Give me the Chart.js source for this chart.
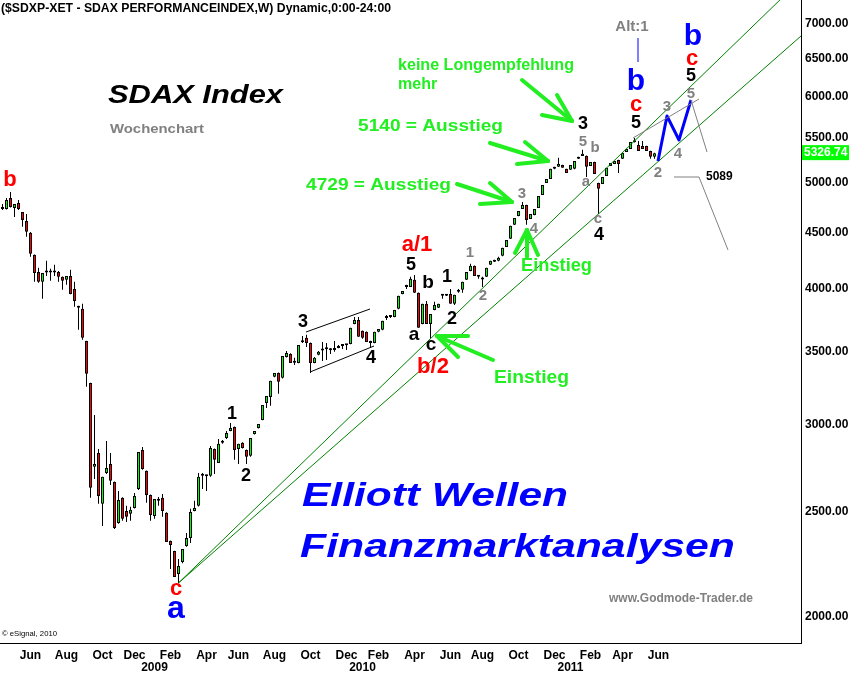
<!DOCTYPE html>
<html><head><meta charset="utf-8">
<script src="https://cdn.jsdelivr.net/npm/chart.js@4.4.0/dist/chart.umd.min.js"></script>
<style>html,body{margin:0;padding:0;background:#fff;overflow:hidden}canvas{display:block}</style>
</head><body>
<canvas id="c" width="849" height="675"></canvas>
<script>
// ---- data (weekly candles, SDAX) ----
const firstWeek = [2008, 3, 14]; // Monday of first weekly bar (UTC y, m0, d)
const open = [4755,4735,4846,4745,4795,4705,4616,4502,4297,4145,
4059,4145,4145,4140,4145,4102,4076,4110,3999,3858,
3834,3583,3279,2746,2828,2540,2711,2763,2660,2439,
2572,2502,2487,2518,2621,2846,2723,2588,2476,2556,
2572,2492,2348,2299,2190,2246,2323,2363,2502,2529,
2700,2692,2695,2852,2769,2889,2919,2962,2987,2852,
2889,2846,2811,2944,2981,3032,3143,3183,3321,3349,
3314,3464,3486,3427,3420,3575,3607,3568,3420,3479,
3515,3520,3515,3515,3530,3545,3553,3560,3714,3745,
3660,3652,3583,3568,3652,3668,3760,3769,3769,3834,
3957,4016,4016,4076,3966,3714,3875,3714,3825,3842,
3941,3941,3957,3875,3991,3991,4076,4154,4199,4102,
4085,4102,4208,4234,4243,4288,4370,4445,4578,4665,
4735,4775,4636,4675,4745,4877,5002,5045,5153,5175,
5196,5153,5142,5153,5263,5296,5296,5185,5229,5002,
4992,5077,5185,5207,5251,5263,5341,5375,5455,5420,
5409,5409,5352,5285];
const high = [4785,4846,4908,4785,4826,4705,4685,4510,4300,4182,
4136,4243,4173,4208,4154,4105,4110,4163,4059,3860,
3875,3585,3280,3064,2852,2689,2901,2828,2662,2610,
2575,2529,2524,2599,2834,2864,2725,2590,2566,2577,
2593,2495,2350,2300,2260,2309,2388,2513,2556,2711,
2711,2700,2870,2855,2913,2907,2962,3013,2990,2883,
2892,2848,2919,2962,3006,3130,3190,3293,3349,3352,
3471,3508,3490,3457,3553,3621,3629,3570,3464,3508,
3575,3568,3530,3583,3553,3553,3560,3683,3769,3769,
3662,3655,3585,3652,3675,3738,3785,3785,3825,3941,
3982,4034,4102,4119,3968,3875,3899,3793,3891,3875,
3957,3957,3999,3949,3999,4059,4145,4217,4201,4119,
4102,4182,4243,4252,4279,4361,4435,4569,4645,4715,
4805,4778,4685,4735,4867,4981,5045,5153,5175,5274,
5199,5155,5196,5240,5285,5364,5300,5229,5231,5005,
5066,5164,5218,5240,5253,5330,5375,5455,5501,5466,
5466,5411,5354,5330];
const low = [4725,4730,4750,4655,4725,4559,4464,4279,4059,4051,
3916,4110,4068,4110,4059,3991,4034,3955,3850,3668,
3592,3252,2572,2677,2540,2424,2705,2643,2408,2435,
2451,2444,2451,2515,2615,2730,2545,2451,2461,2529,
2471,2343,2213,2176,2149,2240,2320,2338,2500,2525,
2621,2610,2689,2705,2769,2883,2913,2960,2787,2763,
2855,2763,2805,2940,2978,3030,3110,3124,3318,3204,
3310,3460,3420,3405,3418,3568,3538,3349,3418,3476,
3435,3442,3486,3501,3528,3523,3515,3557,3712,3615,
3600,3575,3530,3565,3650,3665,3745,3761,3767,3830,
3955,3999,4014,3964,3683,3712,3714,3600,3823,3840,
3916,3940,3875,3866,3966,3966,4074,4150,4110,4085,
4016,4100,4205,4232,4240,4285,4368,4443,4576,4663,
4733,4578,4634,4673,4743,4875,5000,5043,5150,5173,
5164,5109,5140,5150,5261,5294,5066,5183,5098,4685,
4990,5075,5183,5205,5109,5261,5339,5373,5448,5352,
5375,5352,5263,5263];
const close = [4735,4826,4755,4785,4735,4625,4511,4306,4136,4059,
4136,4140,4140,4145,4102,4068,4110,3957,3899,3842,
3607,3342,2627,2763,2582,2689,2740,2666,2413,2561,
2461,2471,2508,2582,2834,2734,2588,2481,2566,2566,
2502,2343,2328,2176,2227,2309,2363,2497,2518,2689,
2695,2696,2858,2787,2883,2901,2950,2981,2846,2883,
2858,2805,2919,2962,3006,3130,3190,3293,3349,3286,
3471,3493,3420,3422,3553,3572,3568,3420,3457,3501,
3512,3523,3513,3518,3545,3548,3550,3683,3745,3615,
3607,3575,3568,3652,3675,3738,3763,3772,3825,3941,
3982,4020,4085,3966,3683,3875,3714,3793,3866,3875,
3945,3957,3875,3949,3974,4059,4145,4199,4110,4105,
4080,4182,4243,4252,4270,4361,4435,4569,4645,4715,
4775,4625,4685,4735,4867,4981,5045,5153,5175,5207,
5164,5109,5196,5240,5285,5319,5175,5229,5098,4940,
5066,5164,5218,5240,5207,5330,5375,5455,5450,5352,
5375,5352,5285,5326.74];
const yTicks = [2000,2500,3000,3500,4000,4500,5000,5500,6000,6500,7000];
const monthNames = ['Jan','Feb','Mar','Apr','May','Jun','Jul','Aug','Sep','Oct','Nov','Dec'];
const lastPrice = close[close.length-1];
// trend lines: anchor candle -> candle whose low it touches
const trendPairs = [[44,107],[44,149]];

// ---- derived ----
const weekDate = i => new Date(Date.UTC(firstWeek[0], firstWeek[1], firstWeek[2]) + i*7*864e5);
const xTickIdx = [], xTickLab = {};
for (let i = 1; i <= close.length + 2; i++) {
  const d = weekDate(i), p = weekDate(i-1);
  if (d.getUTCMonth() !== p.getUTCMonth()) {
    const m = d.getUTCMonth();
    if (m === 0) { xTickIdx.push(i); xTickLab[i] = ['', String(d.getUTCFullYear())]; }
    else if (m % 2 === 1) { xTickIdx.push(i); xTickLab[i] = [monthNames[m]]; }
  }
}
const idx = close.map((_, i) => i);
const bodyData = idx.map(i => ({x:i, y:[open[i], close[i]]}));
const wickData = idx.map(i => ({x:i, y:[low[i], high[i]]}));
const bodyColors = idx.map(i => close[i] >= open[i] ? '#00ff00' : '#ff0000');

// ---- overlay annotations (canvas pixels) ----
const F = 'Liberation Sans, Arial, sans-serif';
const RED='#ff0000', BLUE='#0000ff', GRAY='#808080', BLK='#000000', GRN='#22ee22';
const texts = [
  {t:'($SDXP-XET - SDAX PERFORMANCEINDEX,W) Dynamic,0:00-24:00', x:1, y:9, f:'bold 12px '+F, c:BLK, w:390},
  {t:'SDAX Index', x:108, y:96, f:'italic bold 25px '+F, c:BLK, w:175},
  {t:'Wochenchart', x:110, y:129, f:'bold 13px '+F, c:GRAY, w:94},
  {t:'www.Godmode-Trader.de', x:609, y:599, f:'bold 12px '+F, c:GRAY, w:144},
  {t:'\u00a9 eSignal, 2010', x:2, y:634, f:'8px '+F, c:BLK, w:55},
  {t:'Elliott Wellen', x:302, y:497, f:'italic bold 34px '+F, c:BLUE, w:266},
  {t:'Finanzmarktanalysen', x:300, y:548, f:'italic bold 34px '+F, c:BLUE, w:435},
  {t:'keine Longempfehlung', x:398, y:66, f:'bold 16px '+F, c:GRN, w:176},
  {t:'mehr', x:398, y:85, f:'bold 16px '+F, c:GRN},
  {t:'5140 = Ausstieg', x:358, y:126, f:'bold 17px '+F, c:GRN, w:145},
  {t:'4729 = Ausstieg', x:306, y:185, f:'bold 17px '+F, c:GRN, w:145},
  {t:'Einstieg', x:521, y:266, f:'bold 18px '+F, c:GRN, w:71},
  {t:'Einstieg', x:494, y:378, f:'bold 18px '+F, c:GRN, w:75},
  {t:'5089', x:706, y:177, f:'bold 12px '+F, c:BLK},
];
const waveLabels = [
  ['b',10,180,RED,22],['c',176,589,RED,22],['a',176,609,BLUE,32],
  ['1',232,414,BLK,18],['2',246,476,BLK,18],['3',303,322,BLK,18],['4',371,358,BLK,18],
  ['5',411,265,BLK,18],['a/1',417,245,RED,22],['b',428,283,BLK,19],['a',414,335,BLK,19],
  ['c',431,345,BLK,19],['b/2',433,367,RED,22],['1',447,277,BLK,18],['2',452,319,BLK,18],
  ['1',470,253,GRAY,15],['2',483,296,GRAY,15],['3',522,194,GRAY,15],['4',534,229,GRAY,15],
  ['3',583,124,BLK,18],['5',583,142,GRAY,15],['b',595,148,GRAY,15],['a',586,182,GRAY,15],
  ['c',598,219,GRAY,15],['4',599,235,BLK,18],['Alt:1',632,27,GRAY,15],
  ['b',636,82,BLUE,30],['c',636,105,RED,22],['5',636,123,BLK,18],
  ['3',667,107,GRAY,15],['4',678,154,GRAY,15],['2',658,173,GRAY,15],
  ['b',693,37,BLUE,30],['c',692,59,RED,22],['5',691,76,BLK,18],['5',691,94,GRAY,15],
];
const polylines = [
  {p:[[658,161],[667,116],[679,140],[691,100]], c:BLUE, w:3},
  {p:[[638,38],[638,62]], c:BLUE, w:1},
  {p:[[633,138],[699,99]], c:GRAY, w:1},
  {p:[[691,100],[707,152]], c:GRAY, w:1},
  {p:[[674,177],[699,177],[728,250]], c:GRAY, w:1},
  {p:[[306,332],[370,309]], c:BLK, w:1},
  {p:[[310,372],[374,346]], c:BLK, w:1},
];
const arrows = [
  {s:[522,80], t:[572,121], h:[[557,95],[542,115]]},
  {s:[490,143], t:[548,161], h:[[525,142],[517,164]]},
  {s:[457,184], t:[512,202], h:[[490,183],[480,204]]},
  {s:[527,257], t:[527,230], h:[[515,253],[538,255]]},
  {s:[493,360], t:[437,336], h:[[468,336],[458,357]]},
];

function drawText(ctx, o) {
  ctx.save();
  ctx.font = o.f; ctx.fillStyle = o.c; ctx.textBaseline = 'middle';
  if (o.w) {
    const m = ctx.measureText(o.t).width;
    ctx.translate(o.x, o.y); ctx.scale(o.w / m, 1); ctx.textAlign = 'left'; ctx.fillText(o.t, 0, 0);
  } else { ctx.textAlign = o.a || 'left'; ctx.fillText(o.t, o.x, o.y); }
  ctx.restore();
}
function stroke(ctx, pts, c, w, cap) {
  ctx.save(); ctx.strokeStyle = c; ctx.lineWidth = w; ctx.lineCap = cap || 'butt'; ctx.lineJoin = 'round';
  ctx.beginPath(); pts.forEach((p, k) => k ? ctx.lineTo(p[0], p[1]) : ctx.moveTo(p[0], p[1])); ctx.stroke(); ctx.restore();
}

const overlay = {
  id: 'overlay',
  afterDatasetsDraw(chart) {
    const {ctx, chartArea: a, scales: {x, y}} = chart;
    ctx.save();
    ctx.beginPath(); ctx.rect(a.left, a.top, a.right - a.left, a.bottom - a.top); ctx.clip();
    trendPairs.forEach(([i0, i1]) => {
      const x0 = x.getPixelForValue(i0), y0 = y.getPixelForValue(low[i0]);
      const x1 = x.getPixelForValue(i1), y1 = y.getPixelForValue(low[i1]);
      const s = (y1 - y0) / (x1 - x0);
      stroke(ctx, [[x0, y0], [a.right, y0 + s * (a.right - x0)]], '#008000', 1);
    });
    polylines.forEach(pl => stroke(ctx, pl.p, pl.c, pl.w));
    arrows.forEach(ar => {
      stroke(ctx, [ar.s, ar.t], GRN, 4, 'round');
      ar.h.forEach(h => stroke(ctx, [h, ar.t], GRN, 4, 'round'));
    });
    ctx.restore();
    texts.forEach(o => drawText(ctx, o));
    waveLabels.forEach(([t, px, py, c, s]) => drawText(ctx, {t, x:px, y:py, f:'bold '+s+'px '+F, c, a:'center'}));
    // last price box
    const py = y.getPixelForValue(lastPrice);
    ctx.save();
    ctx.fillStyle = '#00ff00'; ctx.fillRect(a.right + 1, py - 8, 849 - a.right, 15);
    ctx.fillStyle = '#ffffff'; ctx.font = 'bold 12px ' + F; ctx.textBaseline = 'middle'; ctx.textAlign = 'left';
    ctx.fillText(lastPrice.toFixed(2), a.right + 3, py);
    ctx.restore();
  }
};

new Chart(document.getElementById('c').getContext('2d'), {
  type: 'bar',
  data: { datasets: [
    {label:'body', data: bodyData, backgroundColor: bodyColors, borderColor:'#000', borderWidth:1,
     borderSkipped:false, barThickness:3, minBarLength:2, grouped:false, inflateAmount:0, order:1},
    {label:'wick', data: wickData, backgroundColor:'#000', borderWidth:0, barThickness:1,
     grouped:false, inflateAmount:0, order:2}
  ]},
  options: {
    responsive:false, animation:false, devicePixelRatio:1,
    layout:{padding:0},
    plugins:{legend:{display:false}, tooltip:{enabled:false}},
    scales:{
      x:{type:'linear', bounds:'data', min:-0.625, max:199.625, offset:false,
         grid:{display:false, drawTicks:false}, border:{display:true, color:'#000', width:1},
         afterBuildTicks: s => { s.ticks = xTickIdx.map(v => ({value:v})); },
         afterFit: s => { s.height = 32; s.paddingLeft = 0; s.paddingRight = 0; },
         ticks:{autoSkip:false, maxRotation:0, minRotation:0, padding:7, color:'#000',
                font:{family:F, size:12, weight:'bold', lineHeight:1},
                callback: v => xTickLab[v] || ''}},
      y:{type:'logarithmic', bounds:'data', position:'right', min:1893, max:7361,
         grid:{display:false, drawTicks:false}, border:{display:true, color:'#000', width:1},
         afterBuildTicks: s => { s.ticks = yTicks.map(v => ({value:v})); },
         afterFit: s => { s.width = 48; s.paddingTop = 0; s.paddingBottom = 0; },
         ticks:{padding:4, color:'#000', font:{family:F, size:12, weight:'bold'},
                callback: v => Number(v).toFixed(2)}}
    }
  },
  plugins:[overlay]
});
</script>
</body></html>
